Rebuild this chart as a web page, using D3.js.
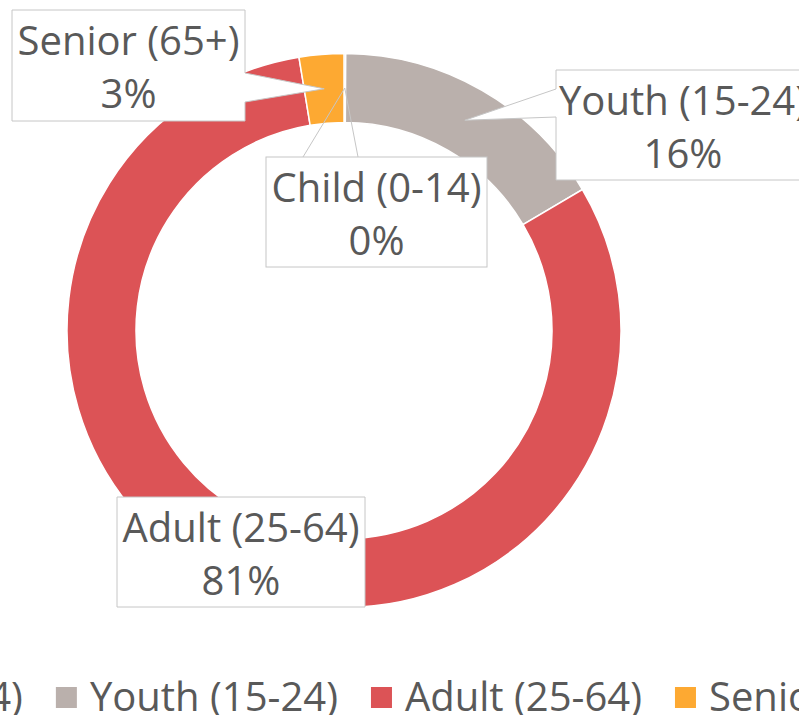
<!DOCTYPE html>
<html>
<head>
<meta charset="utf-8">
<script src="https://cdnjs.cloudflare.com/ajax/libs/d3/7.8.5/d3.min.js"></script>
<style>
  html, body { margin: 0; padding: 0; background: #fff; overflow: hidden; }
  text { font-family: "Open Sans", sans-serif; fill: #595959; }
</style>
</head>
<body>
<script>
// data
var categories = ['Child (0-14)', 'Youth (15-24)', 'Adult (25-64)', 'Senior (65+)'];
var shares = [0.1, 16.4, 80.9, 2.6];
var colors = ['#5b7fae', '#bab0ac', '#dc5356', '#fda932'];

var options = {
  width: 799,
  height: 715,
  cx: 344,
  cy: 330.5,
  outerR: 277,
  innerR: 208,
  fontSize: 40
};

// callout boxes (centre, size) and where the pointer leaves the box
var callouts = {
  'Child (0-14)':  {x: 376.5, y: 212, w: 221, h: 110, side: 'top', from: 303, to: 358},
  'Youth (15-24)': {x: 683, y: 125, w: 254, h: 110, side: 'left', from: 89, to: 117},
  'Adult (25-64)': {x: 241, y: 552, w: 248, h: 110, side: null},
  'Senior (65+)':  {x: 128.5, y: 65.5, w: 233, h: 111, side: 'right', from: 73, to: 102}
};

var svg = d3.select('body')
  .append('svg')
  .attr('width', options.width)
  .attr('height', options.height);

var rows = categories.map(function(c, i) {
  return {name: c, value: shares[i], color: colors[i]};
});

var pie = d3.pie().sort(null).value(function(d) { return d.value; });
var arc = d3.arc().innerRadius(options.innerR).outerRadius(options.outerR);
var midArc = d3.arc()
  .innerRadius((options.innerR + options.outerR) / 2)
  .outerRadius((options.innerR + options.outerR) / 2);

var arcs = pie(rows);

var ring = svg.append('g')
  .attr('transform', 'translate(' + options.cx + ',' + options.cy + ')');

ring.selectAll('path')
  .data(arcs)
  .enter()
  .append('path')
  .attr('d', arc)
  .attr('fill', function(d) { return d.data.color; })
  .attr('stroke', '#fff')
  .attr('stroke-width', 1.5);

// labels
var labels = svg.append('g');

arcs.forEach(function(a) {
  var c = callouts[a.data.name];
  var tip = midArc.centroid(a);
  var tx = tip[0] + options.cx, ty = tip[1] + options.cy;
  var x0 = c.x - c.w / 2, x1 = c.x + c.w / 2;
  var y0 = c.y - c.h / 2, y1 = c.y + c.h / 2;
  var g = labels.append('g');

  if (c.side === 'top') {
    g.append('rect')
      .attr('x', x0).attr('y', y0).attr('width', c.w).attr('height', c.h)
      .attr('fill', '#fff').attr('stroke', '#c6c6c6').attr('stroke-width', 1);
    g.append('path')
      .attr('d', 'M' + c.from + ',' + y0 + 'L' + tx + ',' + ty + 'L' + c.to + ',' + y0)
      .attr('fill', 'none').attr('stroke', '#c6c6c6').attr('stroke-width', 1);
  } else {
    var p = d3.path();
    p.moveTo(x0, y0);
    p.lineTo(x1, y0);
    if (c.side === 'right') {
      p.lineTo(x1, c.from); p.lineTo(tx, ty); p.lineTo(x1, c.to);
    }
    p.lineTo(x1, y1);
    p.lineTo(x0, y1);
    if (c.side === 'left') {
      p.lineTo(x0, c.to); p.lineTo(tx, ty); p.lineTo(x0, c.from);
    }
    p.closePath();
    g.append('path')
      .attr('d', p.toString())
      .attr('fill', '#fff').attr('stroke', '#c6c6c6').attr('stroke-width', 1);
  }

  g.append('text')
    .attr('x', c.x).attr('y', y0 + 45)
    .attr('text-anchor', 'middle')
    .style('font-size', options.fontSize + 'px')
    .text(a.data.name);
  g.append('text')
    .attr('x', c.x).attr('y', y0 + 98)
    .attr('text-anchor', 'middle')
    .style('font-size', options.fontSize + 'px')
    .text(Math.round(a.data.value) + '%');
});

// legend
var legend = svg.append('g');
var items = legend.selectAll('g')
  .data(rows)
  .enter()
  .append('g');

items.append('rect')
  .attr('width', 21).attr('height', 21)
  .attr('fill', function(d) { return d.color; });

items.append('text')
  .attr('x', 34).attr('y', 24)
  .style('font-size', options.fontSize + 'px')
  .text(function(d) { return d.name; });

var widths = [];
items.each(function() {
  widths.push(34 + d3.select(this).select('text').node().getComputedTextLength());
});
var total = d3.sum(widths) + 33 * (widths.length - 1);
var pos = 355 - total / 2;
items.attr('transform', function(d, i) {
  var x = pos;
  pos += widths[i] + 33;
  return 'translate(' + x + ',687)';
});
</script>
</body>
</html>
